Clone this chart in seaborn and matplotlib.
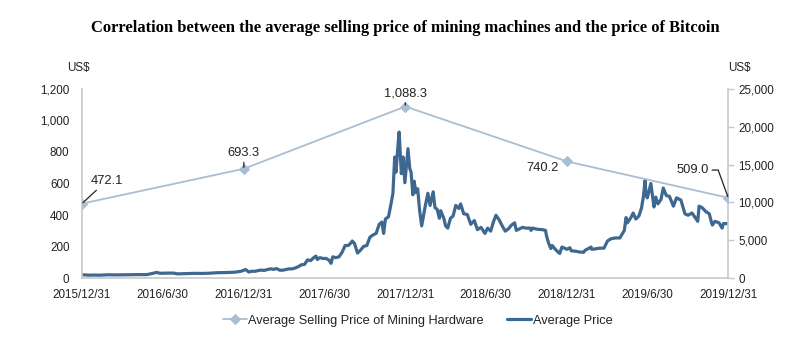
import pandas as pd
import matplotlib
matplotlib.use("Agg")
import matplotlib.pyplot as plt
import seaborn as sns

# ---------------- data ----------------
hw_dates = ["2015-12-31", "2016-12-31", "2017-12-31", "2018-12-31", "2019-12-31"]
hw_values = [472.1, 693.3, 1088.3, 740.2, 509.0]
hw_labels = ["472.1", "693.3", "1,088.3", "740.2", "509.0"]

btc_dates = [
    # 2016
    "2015-12-31", "2016-01-05", "2016-01-15", "2016-01-25", "2016-02-10", "2016-02-28",
    "2016-03-15", "2016-04-01", "2016-04-20", "2016-05-10", "2016-05-25", "2016-06-05",
    "2016-06-17", "2016-06-25", "2016-07-10", "2016-07-25", "2016-08-03", "2016-08-20",
    "2016-09-10", "2016-09-30", "2016-10-15", "2016-10-30", "2016-11-10", "2016-11-25",
    "2016-12-10", "2016-12-25",
    # 2017
    "2017-01-04", "2017-01-11", "2017-01-18", "2017-01-25", "2017-02-01", "2017-02-08",
    "2017-02-15", "2017-02-22", "2017-03-01", "2017-03-08", "2017-03-15", "2017-03-22",
    "2017-03-29", "2017-04-05", "2017-04-12", "2017-04-19", "2017-04-26", "2017-05-03",
    "2017-05-10", "2017-05-17", "2017-05-24", "2017-05-31", "2017-06-07", "2017-06-12",
    "2017-06-15", "2017-06-21", "2017-06-28", "2017-07-05", "2017-07-12", "2017-07-16",
    "2017-07-20", "2017-07-27", "2017-08-03", "2017-08-10", "2017-08-17", "2017-08-24",
    "2017-08-31", "2017-09-02", "2017-09-07", "2017-09-14", "2017-09-21", "2017-09-28",
    "2017-10-05", "2017-10-12", "2017-10-19", "2017-10-26", "2017-11-02", "2017-11-08",
    "2017-11-12", "2017-11-16", "2017-11-23", "2017-11-29", "2017-12-03", "2017-12-07",
    "2017-12-10", "2017-12-13", "2017-12-17", "2017-12-22", "2017-12-26", "2017-12-30",
    # 2018
    "2018-01-06", "2018-01-10", "2018-01-13", "2018-01-17", "2018-01-20", "2018-01-24",
    "2018-01-28", "2018-02-01", "2018-02-06", "2018-02-10", "2018-02-14", "2018-02-20",
    "2018-02-25", "2018-03-04", "2018-03-08", "2018-03-13", "2018-03-18", "2018-03-21",
    "2018-03-28", "2018-04-01", "2018-04-06", "2018-04-12", "2018-04-18", "2018-04-24",
    "2018-05-01", "2018-05-05", "2018-05-12", "2018-05-20", "2018-05-28", "2018-06-05",
    "2018-06-12", "2018-06-20", "2018-06-29", "2018-07-05", "2018-07-12", "2018-07-18",
    "2018-07-24", "2018-07-31", "2018-08-07", "2018-08-14", "2018-08-21", "2018-08-28",
    "2018-09-04", "2018-09-08", "2018-09-15", "2018-09-22", "2018-09-30", "2018-10-10",
    "2018-10-11", "2018-10-15", "2018-10-25", "2018-11-05", "2018-11-13", "2018-11-15",
    "2018-11-20", "2018-11-25", "2018-11-28", "2018-12-05", "2018-12-10", "2018-12-15",
    "2018-12-20", "2018-12-24", "2018-12-31",
    # 2019
    "2019-01-07", "2019-01-10", "2019-01-20", "2019-01-28", "2019-02-07", "2019-02-10",
    "2019-02-24", "2019-02-25", "2019-03-05", "2019-03-15", "2019-03-25", "2019-04-02",
    "2019-04-10", "2019-04-20", "2019-04-30", "2019-05-10", "2019-05-14", "2019-05-17",
    "2019-05-25", "2019-05-30", "2019-06-05", "2019-06-12", "2019-06-18", "2019-06-22",
    "2019-06-26", "2019-06-28", "2019-07-01", "2019-07-09", "2019-07-16", "2019-07-20",
    "2019-07-25", "2019-08-01", "2019-08-06", "2019-08-13", "2019-08-20", "2019-08-29",
    "2019-09-05", "2019-09-15", "2019-09-24", "2019-10-01", "2019-10-10", "2019-10-23",
    "2019-10-26", "2019-11-02", "2019-11-10", "2019-11-18", "2019-11-22", "2019-11-25",
    "2019-12-01", "2019-12-10", "2019-12-17", "2019-12-20", "2019-12-31",
]
btc_values = [
    # 2016
    430, 430, 380, 395, 380, 430,
    415, 420, 440, 455, 450, 580,
    740, 630, 650, 655, 550, 580,
    620, 610, 640, 700, 710, 735,
    770, 900,
    # 2017
    1130, 800, 900, 890, 980, 1050,
    1010, 1120, 1220, 1150, 1250, 1040,
    1040, 1130, 1210, 1210, 1320, 1500,
    1750, 1800, 2400, 2300, 2700, 2900,
    2450, 2700, 2580, 2600, 2330, 1950,
    2800, 2700, 2800, 3400, 4300, 4300,
    4700, 4900, 4600, 3300, 3700, 4200,
    4300, 5400, 5700, 5900, 7100, 7400,
    5900, 7800, 8100, 9900, 11200, 16000,
    14000, 16500, 19300, 13800, 16000, 12600,
    # 2018
    17100, 14500, 14000, 11000, 12800, 11300,
    11800, 9100, 6900, 8200, 9500, 11200,
    9600, 11400, 9300, 9100, 7900, 8900,
    7900, 6900, 6600, 7900, 8200, 9600,
    9200, 9800, 8500, 8400, 7100, 7600,
    6400, 6700, 5900, 6600, 6200, 7400,
    8300, 7700, 6900, 6200, 6500, 7000,
    7300, 6300, 6500, 6700, 6600, 6600,
    6300, 6600, 6450, 6400, 6300, 5600,
    4600, 3900, 4300, 3800, 3500, 3250,
    4100, 4000, 3800,
    # 2019
    4000, 3600, 3550, 3450, 3400, 3650,
    4100, 3800, 3850, 3950, 3950, 4900,
    5200, 5300, 5300, 6300, 8000, 7300,
    8000, 8600, 7800, 8200, 9300, 10700,
    12900, 11000, 10600, 12500, 9400, 10700,
    9800, 10400, 11900, 10900, 10800, 9500,
    10600, 10300, 8500, 8300, 8600, 7500,
    9500, 9300, 8800, 8500, 7600, 7000,
    7500, 7300, 6600, 7200, 7200,
]

tick_dates = ["2015-12-31", "2016-06-30", "2016-12-31", "2017-06-30", "2017-12-31",
              "2018-06-30", "2018-12-31", "2019-06-30", "2019-12-31"]
tick_labels = ["2015/12/31", "2016/6/30", "2016/12/31", "2017/6/30", "2017/12/31",
               "2018/6/30", "2018/12/31", "2019/6/30", "2019/12/31"]

title = "Correlation between the average selling price of mining machines and the price of Bitcoin"

# ---------------- plot ----------------
sns.set_theme(style="white")
plt.rcParams["font.family"] = ["Liberation Sans", "DejaVu Sans"]

hw = pd.DataFrame({"date": pd.to_datetime(hw_dates), "value": hw_values})
btc = pd.DataFrame({"date": pd.to_datetime(btc_dates), "value": btc_values})

fig = plt.figure(figsize=(8.11, 3.42), dpi=100)
ax = fig.add_axes([0.101, 0.187, 0.797, 0.553])
ax2 = ax.twinx()

hw_color = "#a9bdd3"
btc_color = "#3f6891"
axis_color = "#c8c8c8"
text_color = "#222222"

sns.lineplot(data=btc, x="date", y="value", ax=ax2, color=btc_color, linewidth=2.3,
             label="Average Price", legend=False)
sns.lineplot(data=hw, x="date", y="value", ax=ax, color=hw_color, linewidth=1.3,
             marker="D", markersize=5, markeredgecolor=hw_color,
             label="Average Selling Price of Mining Hardware", legend=False)

ax.set_zorder(ax2.get_zorder() + 1)
ax.patch.set_visible(False)

x0 = pd.Timestamp("2015-12-31")
x1 = pd.Timestamp("2019-12-31")
ax.set_xlim(x0, x1)
ax.set_ylim(0, 1200)
ax2.set_ylim(0, 25000)

ax.set_xticks(pd.to_datetime(tick_dates))
ax.set_xticklabels(tick_labels)
ax.set_yticks(range(0, 1201, 200))
ax.set_yticklabels([f"{v:,}" for v in range(0, 1201, 200)])
ax2.set_yticks(range(0, 25001, 5000))
ax2.set_yticklabels([f"{v:,}" for v in range(0, 25001, 5000)])

for a in (ax, ax2):
    a.set_xlabel("")
    a.set_ylabel("")
    for s in a.spines.values():
        s.set_visible(False)

ax.spines["left"].set_visible(True)
ax.spines["bottom"].set_visible(True)
ax2.spines["right"].set_visible(True)
for s in (ax.spines["left"], ax.spines["bottom"], ax2.spines["right"]):
    s.set_color(axis_color)
    s.set_linewidth(1.2)

ax.tick_params(axis="x", length=0, labelsize=8.4, colors=text_color, pad=8)
ax.tick_params(axis="y", length=0, labelsize=8.4, colors=text_color, pad=9)
ax2.tick_params(axis="y", length=4, width=1, color=axis_color, labelsize=8.4,
                labelcolor=text_color, pad=3, direction="out")

# annotations
d = pd.to_datetime(hw_dates)
lead = dict(arrowstyle="-", color="#222222", lw=0.9, shrinkA=0, shrinkB=1)
ann_kw = dict(fontsize=9.3, color=text_color, textcoords="offset points")
ax.annotate(hw_labels[0], xy=(d[0], hw_values[0]), xytext=(6, 12), ha="left", va="bottom",
            arrowprops=lead, **ann_kw)
ax.annotate(hw_labels[1], xy=(d[1], hw_values[1]), xytext=(0, 7), ha="center", va="bottom",
            arrowprops=lead, **ann_kw)
ax.annotate(hw_labels[2], xy=(d[2], hw_values[2]), xytext=(0, 5), ha="center", va="bottom",
            arrowprops=lead, **ann_kw)
ax.annotate(hw_labels[3], xy=(d[3], hw_values[3]), xytext=(-6, -5), ha="right", va="center",
            **ann_kw)
ax.annotate(hw_labels[4], xy=(d[4], hw_values[4]), xytext=(-14, 20), ha="right", va="center",
            arrowprops=dict(arrowstyle="-", color="#222222", lw=0.9, shrinkA=0, shrinkB=1,
                            connectionstyle="angle,angleA=0,angleB=110,rad=0"),
            **ann_kw)

fig.text(0.097, 0.785, "US$", fontsize=8.4, color=text_color, ha="center", va="bottom")
fig.text(0.912, 0.785, "US$", fontsize=8.4, color=text_color, ha="center", va="bottom")

fig.text(0.5, 0.918, title, ha="center", va="center", fontsize=11.9, fontweight="bold",
         family=["Liberation Serif", "DejaVu Serif"], color="black")

h1, l1 = ax.get_legend_handles_labels()
h2, l2 = ax2.get_legend_handles_labels()
leg = fig.legend(h1 + h2, l1 + l2, loc="center", bbox_to_anchor=(0.515, 0.062), ncol=2,
                 frameon=False, fontsize=9.2, handlelength=1.9, handletextpad=0.1,
                 columnspacing=1.8)
for t in leg.get_texts():
    t.set_color(text_color)

fig.savefig("out.png", dpi=100)
